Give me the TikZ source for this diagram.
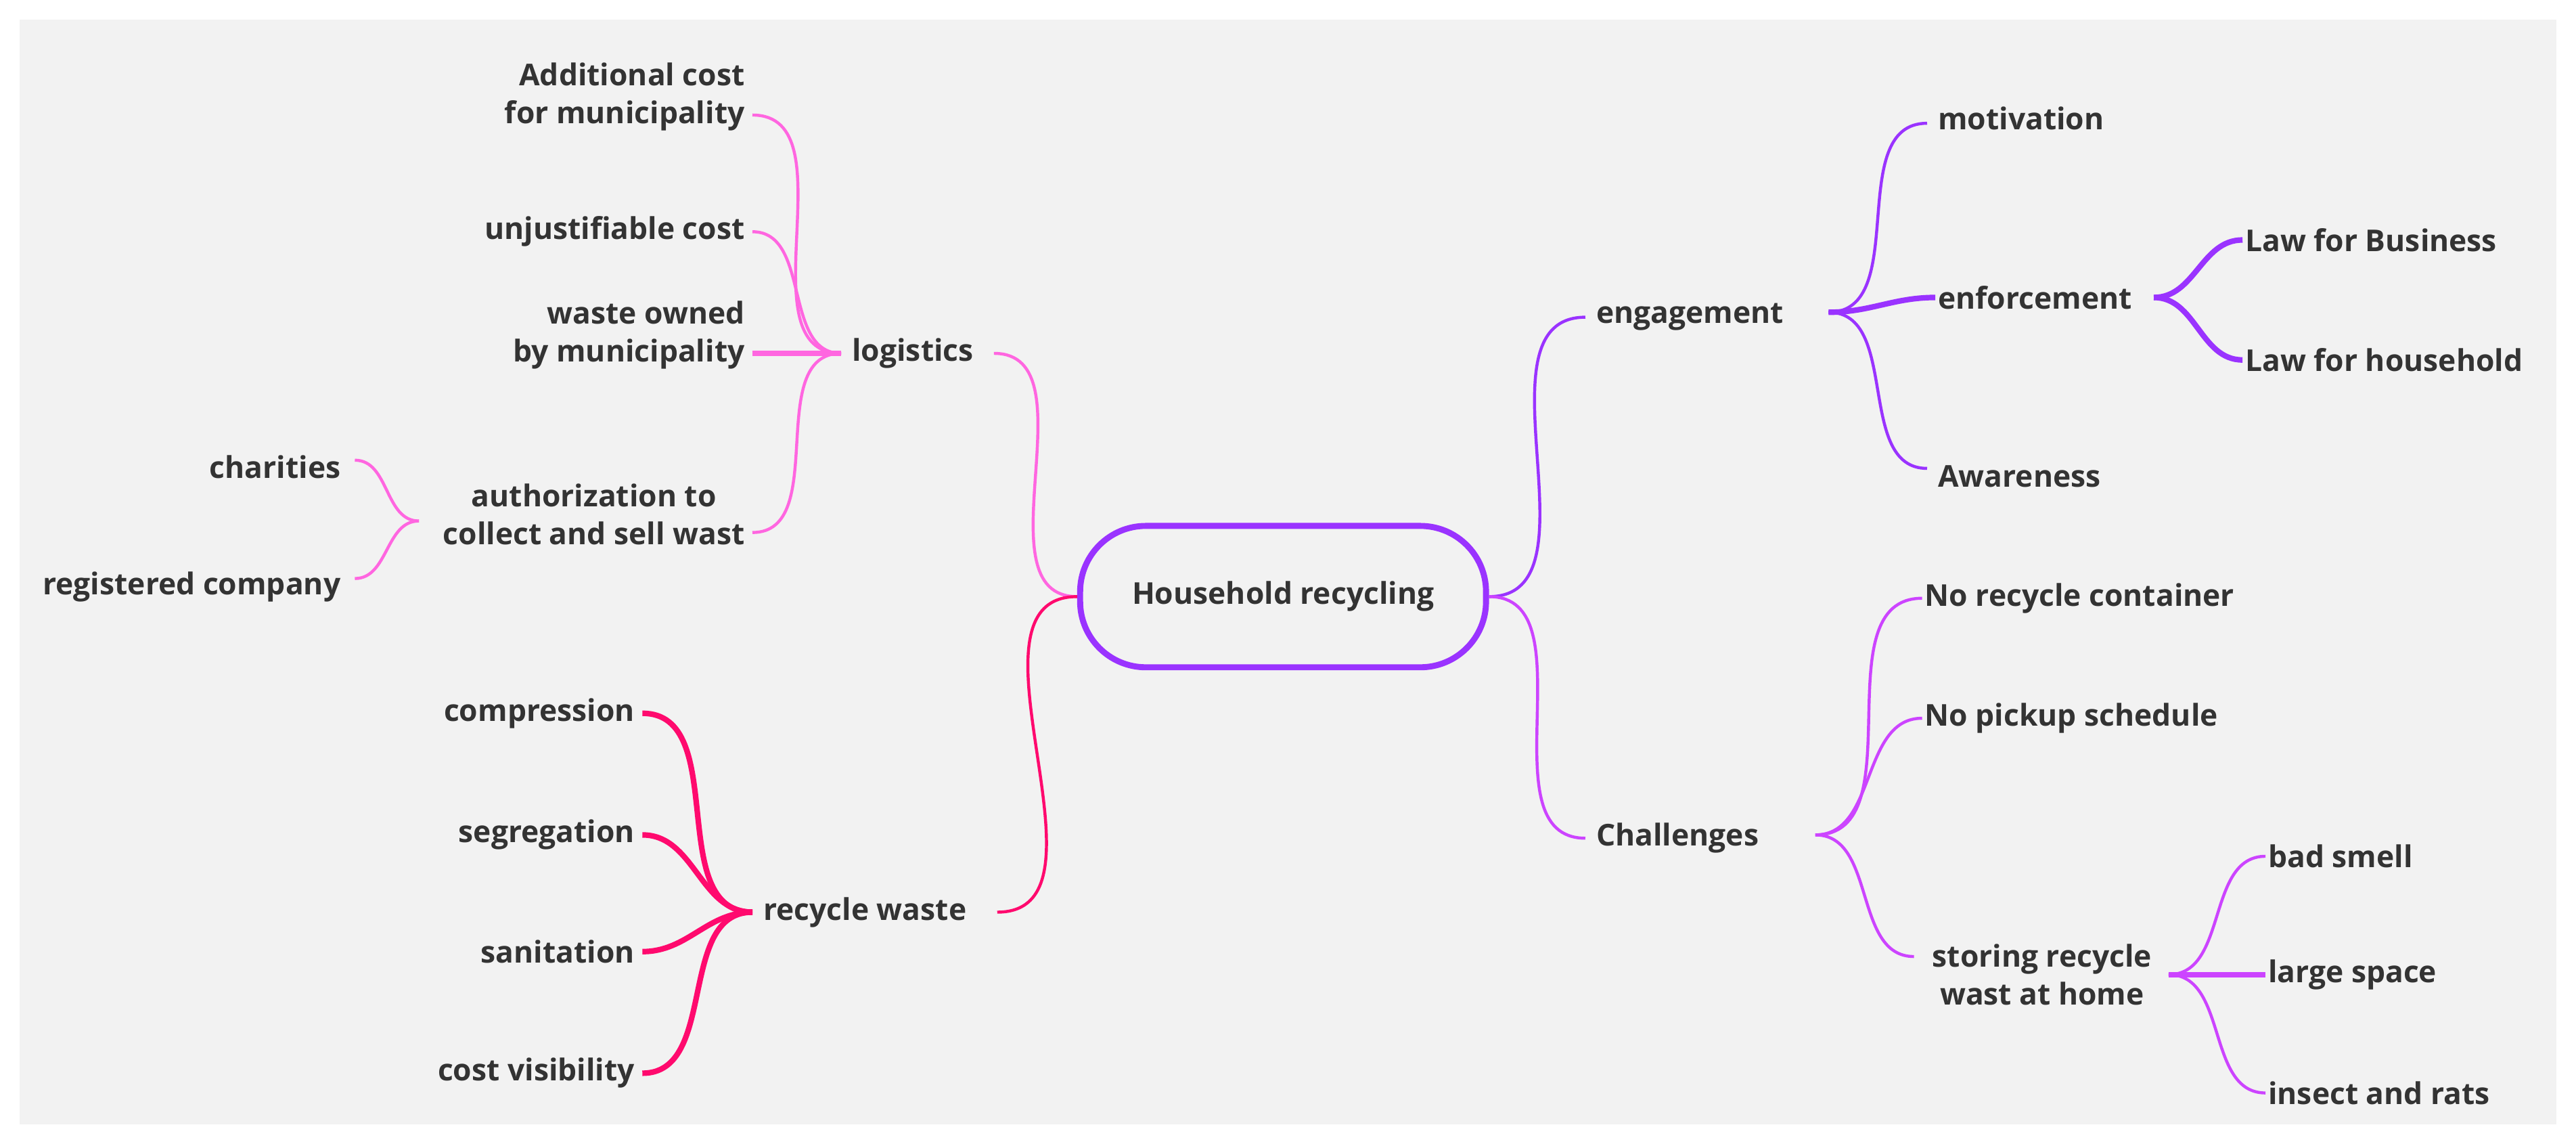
\documentclass[tikz,border=0pt]{standalone}
\usepackage{fontspec}
\setmainfont{Open Sans}
\definecolor{txt}{HTML}{333333}
\definecolor{bg}{HTML}{F2F2F2}
\definecolor{lg}{HTML}{FF66E0}
\definecolor{rw}{HTML}{FF0A6E}
\definecolor{en}{HTML}{9A33FF}
\definecolor{ch}{HTML}{CC44FF}
\begin{document}
\begin{tikzpicture}[x=0.025cm,y=-0.025cm,
 t/.style={font=\fontsize{13}{16.5}\selectfont\bfseries, text=txt, inner sep=1pt},
 br/.style={line width=1.3pt},
 hb/.style={line width=2.4pt}]
\fill[white] (0,0) rectangle (1568,696);
\fill[bg] (12,12) rectangle (1556,684);
% centre
\node[draw=en,line width=2.6pt,rounded corners=1cm,minimum width=6.175cm,minimum height=2.15cm,t] (c) at (781,363) {Household recycling};
% logistics branch
\node[t,anchor=west] (lo) at (517,215) {logistics};
\coordinate (loL) at (512,215); \coordinate (loR) at (605,215);
\node[t,anchor=east,align=right] (add) at (455,59) {Additional cost\\for municipality};
\coordinate (addE) at (458,70);
\node[t,anchor=east] (unj) at (455,141) {unjustifiable cost};
\coordinate (unjE) at (458,141);
\node[t,anchor=east,align=right] (own) at (455,204) {waste owned\\by municipality};
\coordinate (ownE) at (458,215);
\node[t,anchor=east,align=center] (aut) at (455,313) {authorization to\\collect and sell wast};
\coordinate (autE) at (458,324); \coordinate (autL) at (255,317);
\node[t,anchor=east] (cha) at (209,284) {charities};
\coordinate (chaE) at (216,280);
\node[t,anchor=east] (reg) at (209,357) {registered company};
\coordinate (regE) at (216,352);
\draw[lg,br] (c.west) to[out=180,in=0] (loR);
\foreach \p in {addE,unjE,autE} \draw[lg,br] (\p) to[out=0,in=180] (loL);
\draw[lg,hb] (ownE) -- (loL);
\draw[lg,br] (chaE) to[out=0,in=180] (autL);
\draw[lg,br] (regE) to[out=0,in=180] (autL);
% recycle waste branch
\node[t,anchor=west] (rw) at (463,555) {recycle waste};
\coordinate (rwL) at (458,555); \coordinate (rwR) at (607,555);
\node[t,anchor=east] (com) at (388,434) {compression};
\node[t,anchor=east] (seg) at (388,508) {segregation};
\node[t,anchor=east] (san) at (388,579) {sanitation};
\node[t,anchor=east] (cv) at (388,653) {cost visibility};
\draw[rw,br] (c.west) to[out=180,in=0] (rwR);
\foreach \n in {com,seg,san,cv} \draw[rw,hb] (\n.east) ++(3,0) to[out=0,in=180] (rwL);
% engagement branch
\node[t,anchor=west] (eg) at (970,193) {engagement};
\coordinate (egL) at (965,193); \coordinate (egR) at (1113,190);
\node[t,anchor=west] (mot) at (1178,72) {motivation};
\node[t,anchor=west] (enf) at (1178,181) {enforcement};
\node[t,anchor=west] (aw) at (1178,290) {Awareness};
\coordinate (motL) at (1173,75); \coordinate (awL) at (1173,285); \coordinate (enfR) at (1311,181);
\node[t,anchor=west] (lb) at (1365,146) {Law for Business};
\node[t,anchor=west] (lh) at (1365,219) {Law for household};
\draw[en,br] (c.east) to[out=0,in=180] (egL);
\draw[en,br] (egR) to[out=0,in=180] (motL);
\draw[en,hb] (egR) to[out=0,in=180] (enf.west);
\draw[en,br] (egR) to[out=0,in=180] (awL);
\draw[en,hb] (enfR) to[out=0,in=180] (lb.west);
\draw[en,hb] (enfR) to[out=0,in=180] (lh.west);
% challenges branch
\node[t,anchor=west] (ch) at (970,510) {Challenges};
\coordinate (chL) at (965,510); \coordinate (chR) at (1105,508);
\node[t,anchor=west] (nrc) at (1170,364) {No recycle container};
\node[t,anchor=west] (nps) at (1170,437) {No pickup schedule};
\node[t,align=center] (sto) at (1243,593) {storing recycle\\wast at home};
\coordinate (stoL) at (1165,582); \coordinate (stoR) at (1320,593);
\node[t,anchor=west] (bs) at (1379,521) {bad smell};
\node[t,anchor=west] (ls) at (1379,593) {large space};
\node[t,anchor=west] (ir) at (1379,665) {insect and rats};
\draw[ch,br] (c.east) to[out=0,in=180] (chL);
\draw[ch,br] (chR) to[out=0,in=180] (nrc.west);
\draw[ch,br] (chR) to[out=0,in=180] (nps.west);
\draw[ch,br] (chR) to[out=0,in=180] (stoL);
\draw[ch,br] (stoR) to[out=0,in=180] (bs.west);
\draw[ch,hb] (stoR) -- (ls.west);
\draw[ch,br] (stoR) to[out=0,in=180] (ir.west);
\end{tikzpicture}
\end{document}
